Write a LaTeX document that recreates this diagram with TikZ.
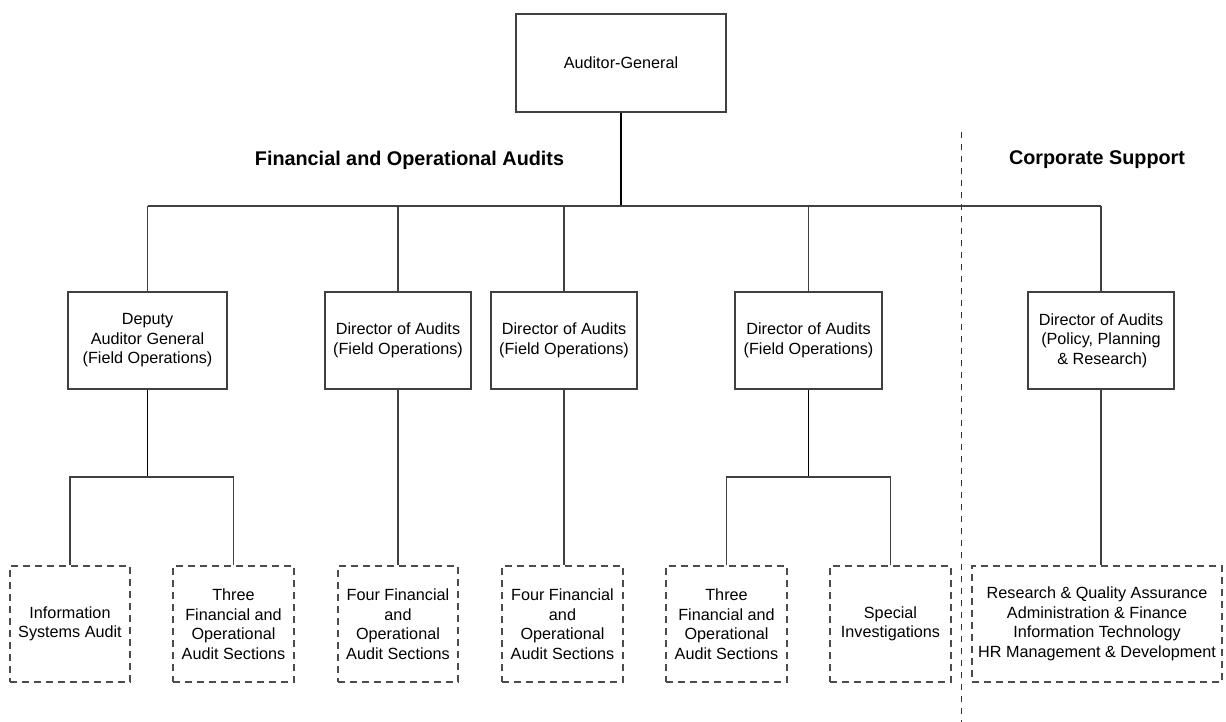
\documentclass[tikz,border=0pt]{standalone}
\usepackage{fontspec}
\setmainfont{Liberation Sans}
\begin{document}
\begin{tikzpicture}[x=1pt,y=-1pt,
  every node/.style={inner sep=0pt, align=center, font=\fontsize{16.2}{19.5}\selectfont},
  box/.style={draw=black!75, line width=1.1pt, fill=white},
  unitbox/.style={draw=black!70, line width=1.1pt, dash pattern=on 7pt off 5pt, minimum height=116pt},
  link/.style={draw=black!75, line width=1.1pt},
  heavylink/.style={draw=black, line width=2.2pt},
  midlink/.style={draw=black, line width=1.5pt},
  divider/.style={draw=black!80, line width=1pt, dash pattern=on 6pt off 6pt},
  heading/.style={font=\fontsize{19.8}{24}\selectfont\bfseries}]
\useasboundingbox (0,0) rectangle (1226,722);

% head of office
\node[box, minimum width=210pt, minimum height=98pt] (ag) at (621,63) {Auditor-General};

% group headings and divider
\node[heading] (fin) at (409.5,160) {Financial and Operational Audits};
\node[heading] (corp) at (1097,160) {Corporate Support};
\coordinate (divtop) at (961,132);
\coordinate (divbot) at (961,722);
\draw[divider] (divtop) -- (divbot);

% second level
\node[box, minimum width=159pt, minimum height=97pt] (dag) at (147.5,340.5) {Deputy\\Auditor General\\(Field Operations)};
\node[box, minimum width=146pt, minimum height=97pt] (doa) at (398,340.5) {Director of Audits\\(Field Operations)};
\node[box, minimum width=146pt, minimum height=97pt] (dob) at (564,340.5) {Director of Audits\\(Field Operations)};
\node[box, minimum width=147pt, minimum height=97pt] (doc) at (808.5,340.5) {Director of Audits\\(Field Operations)};
\node[box, minimum width=146pt, minimum height=97pt] (dpp) at (1101,340.5) {Director of Audits\\(Policy, Planning\\\,\& Research)};

% sections
\node[unitbox, minimum width=120pt] (isa) at (70,624) {Information\\Systems Audit};
\node[unitbox, minimum width=121pt] (tfa) at (233.5,624) {Three\\Financial and\\Operational\\Audit Sections};
\node[unitbox, minimum width=120pt] (ffa) at (398,624) {Four Financial\\and\\Operational\\Audit Sections};
\node[unitbox, minimum width=121pt] (ffb) at (562.5,624) {Four Financial\\and\\Operational\\Audit Sections};
\node[unitbox, minimum width=121pt] (tfb) at (726.5,624) {Three\\Financial and\\Operational\\Audit Sections};
\node[unitbox, minimum width=121pt] (spi) at (890.5,624) {Special\\Investigations};
\node[unitbox, minimum width=250pt] (cs) at (1097,624) {Research \& Quality Assurance\\Administration \& Finance\\Information Technology\\HR Management \& Development};

% top-level connectors
\coordinate (bar) at (621,206);
\draw[heavylink] (ag.south) -- (bar);
\draw[link] (dag.north |- bar) -- (dpp.north |- bar);
\foreach \n in {dag,doa,dob,doc,dpp}
  \draw[link] (\n.north) -- (\n.north |- bar);

% lower connectors
\coordinate (subbar) at (147.5,477);
\draw[midlink] (dag.south) -- (dag.south |- subbar);
\draw[link] (isa.north) -- (isa.north |- subbar) -- (tfa.north |- subbar) -- (tfa.north);
\draw[midlink] (doc.south) -- (doc.south |- subbar);
\draw[link] (tfb.north) -- (tfb.north |- subbar) -- (spi.north |- subbar) -- (spi.north);
\draw[link] (doa.south) -- (doa.south |- ffa.north);
\draw[link] (dob.south) -- (dob.south |- ffb.north);
\draw[link] (dpp.south) -- (dpp.south |- cs.north);
\end{tikzpicture}
\end{document}
